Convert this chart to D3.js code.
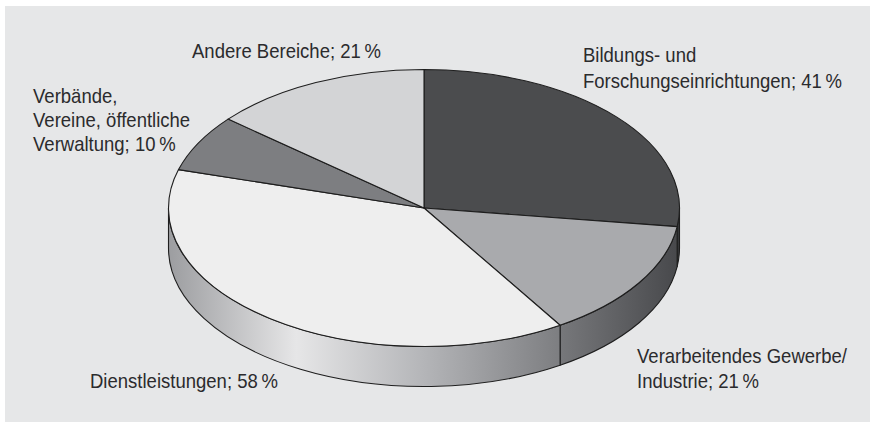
<!DOCTYPE html>
<html>
<head>
<meta charset="utf-8">
<script src="https://cdn.jsdelivr.net/npm/d3@7"></script>
<style>
  body { margin: 0; background: #fff; }
  svg { display: block; }
  text { font-family: "Liberation Sans", Arial, sans-serif; font-size: 20.8px; fill: #2b2b2d; }
</style>
</head>
<body>
<svg width="870" height="422"></svg>
<script>
// data (Mehrfachnennungen, daher Summe > 100)
const categories = ["Bildungs- und Forschungseinrichtungen", "Verarbeitendes Gewerbe/Industrie", "Dienstleistungen", "Verbände, Vereine, öffentliche Verwaltung", "Andere Bereiche"];
const values = [41, 21, 58, 10, 21];
const labelLines = [
  ["Bildungs- und", "Forschungseinrichtungen; 41\u2009%"],
  ["Verarbeitendes Gewerbe/", "Industrie; 21\u2009%"],
  ["Dienstleistungen; 58\u2009%"],
  ["Verbände,", "Vereine, öffentliche", "Verwaltung; 10\u2009%"],
  ["Andere Bereiche; 21\u2009%"]
];
const topColors = ["#4b4c4e", "#a9aaad", "#eeeeee", "#7d7e81", "#d3d4d6"];

const svg = d3.select("svg");

// hintergrund
svg.append("rect").attr("x", 5).attr("y", 6).attr("width", 865).attr("height", 416).attr("fill", "#e6e7e8");

const cx = 424, cy = 208, rx = 255.5, ry = 138.5, depth = 40;

const pie = d3.pie().sort(null).value(d => d)(values);

// winkel im uhrzeigersinn ab 12 Uhr
const px = a => cx + rx * Math.sin(a);
const py = a => cy - ry * Math.cos(a);

const defs = svg.append("defs");
// gradienten für den rand (horizontal über die ganze breite)
const sideStops = [
  [[0.98, "#3c3d3f"], [1, "#37383a"]],
  [[0.77, "#76777a"], [1, "#47484b"]],
  [[0, "#9c9da0"], [0.25, "#e6e6e7"], [0.5, "#b4b5b8"], [0.77, "#7c7d80"]],
  [[0, "#555"], [1, "#555"]],
  [[0, "#777"], [1, "#777"]]
];
sideStops.forEach((stops, i) => {
  const g = defs.append("linearGradient")
    .attr("id", "side-" + i)
    .attr("gradientUnits", "userSpaceOnUse")
    .attr("x1", cx - rx).attr("y1", 0)
    .attr("x2", cx + rx).attr("y2", 0);
  stops.forEach(s => g.append("stop").attr("offset", s[0]).attr("stop-color", s[1]));
});

// sichtbarer rand: nur vordere hälfte (PI/2 .. 3PI/2)
const sides = svg.append("g");
pie.forEach((d, i) => {
  const b0 = Math.max(d.startAngle, Math.PI / 2);
  const b1 = Math.min(d.endAngle, 3 * Math.PI / 2);
  if (b1 <= b0) return;
  const p = `M${px(b0)},${py(b0)} A${rx},${ry} 0 0 1 ${px(b1)},${py(b1)}`
    + ` L${px(b1)},${py(b1) + depth} A${rx},${ry} 0 0 0 ${px(b0)},${py(b0) + depth} Z`;
  sides.append("path")
    .attr("d", p)
    .attr("fill", `url(#side-${i})`)
    .attr("stroke", "#1e1e1e")
    .attr("stroke-width", 1.1)
    .attr("stroke-linejoin", "round");
});

// oberseite
const tops = svg.append("g");
pie.forEach((d, i) => {
  const a0 = d.startAngle, a1 = d.endAngle;
  const large = (a1 - a0) > Math.PI ? 1 : 0;
  tops.append("path")
    .attr("d", `M${cx},${cy} L${px(a0)},${py(a0)} A${rx},${ry} 0 ${large} 1 ${px(a1)},${py(a1)} Z`)
    .attr("fill", topColors[i])
    .attr("stroke", "#1e1e1e")
    .attr("stroke-width", 1.1)
    .attr("stroke-linejoin", "round");
});

// beschriftungen (schmale schrift nachgebildet über horizontale stauchung)
const labelPos = [
  { x: 583, y: 62, dy: 26 },
  { x: 637, y: 363, dy: 25 },
  { x: 90, y: 388, dy: 25 },
  { x: 33, y: 103, dy: 24 },
  { x: 192, y: 58, dy: 25 }
];
const labels = [];
labelLines.forEach((lines, i) => {
  const t = svg.append("text");
  lines.forEach((l, j) => {
    t.append("tspan")
      .attr("x", 0)
      .attr("y", j * labelPos[i].dy)
      .text(l);
  });
  labels.push(t);
});
// breite von "Forschungseinrichtungen; 41 %" im original ca. 259 px
const ref = labels[0].select("tspan:nth-child(2)").node().getComputedTextLength();
const sx = 259 / ref;
labels.forEach((t, i) => {
  t.attr("transform", `translate(${labelPos[i].x},${labelPos[i].y}) scale(${sx},1)`);
});
</script>
</body>
</html>
